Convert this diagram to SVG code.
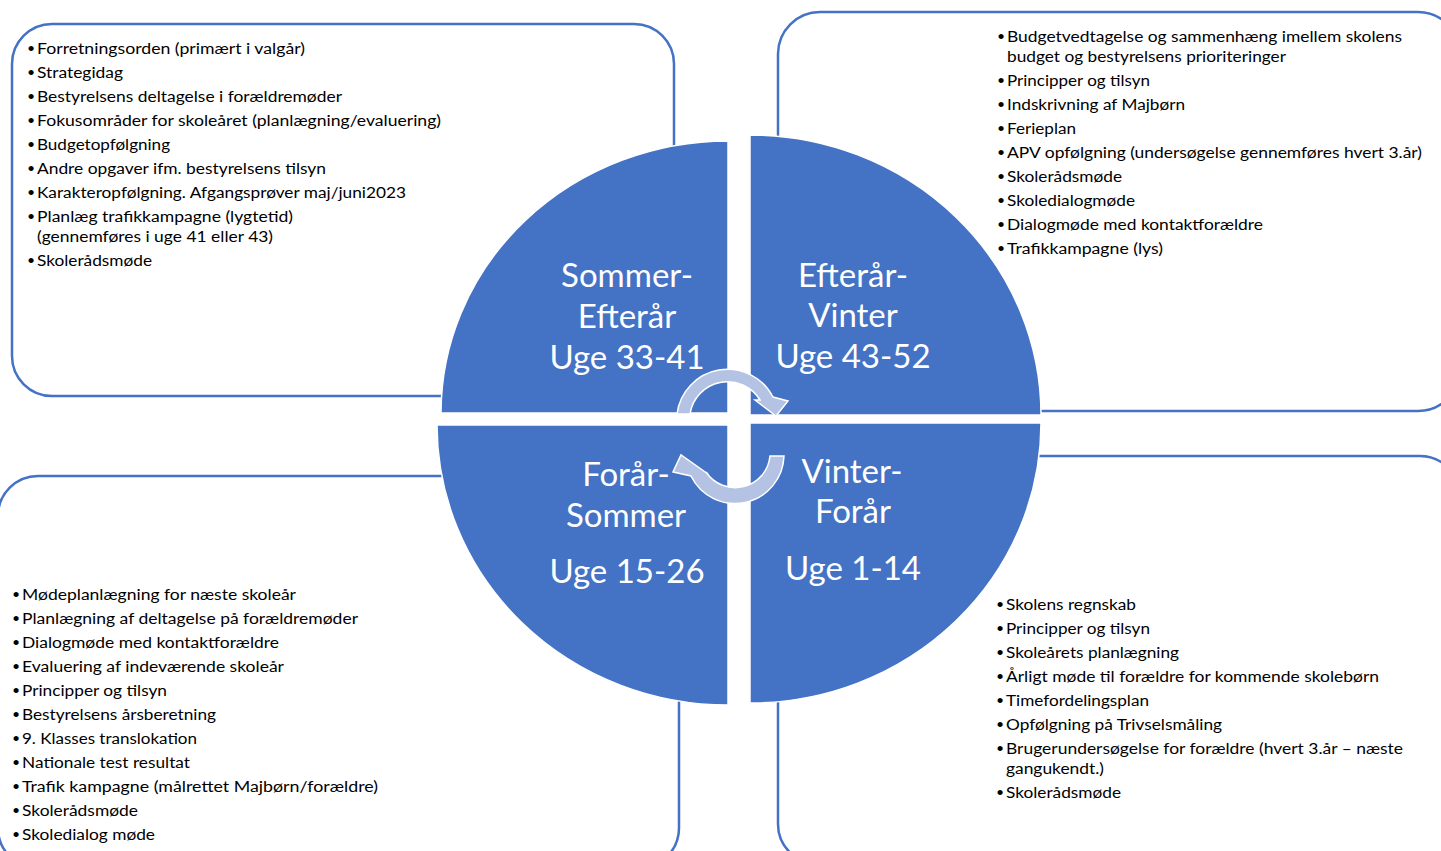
<svg xmlns="http://www.w3.org/2000/svg" width="1441" height="851" viewBox="0 0 1441 851">
<style>
.box{fill:#fff;stroke:#4472C4;stroke-width:2.5}
.q{fill:#4472C4;stroke:#fff;stroke-width:1.5}
.arr{fill:#B4C3E4;stroke:#fff;stroke-width:1.5}
.li{font-family:Lato,"Open Sans","Liberation Sans",sans-serif;font-size:15.5px;fill:#000}
.bu{font-family:"Liberation Sans",sans-serif;font-size:19px;fill:#000;text-anchor:middle}
.t{font-family:Lato,"Open Sans","Liberation Sans",sans-serif;font-size:33px;fill:#fff;text-anchor:middle}
</style>
<rect width="1441" height="851" fill="#fff"/>
<g id="box-tl"><rect class="box" x="12" y="24" width="662" height="372" rx="40"/></g>
<g id="box-tr"><rect class="box" x="778" y="12" width="682" height="399" rx="42"/></g>
<g id="box-bl"><rect class="box" x="-2" y="476" width="681" height="392" rx="40"/></g>
<g id="box-br"><rect class="box" x="778" y="456" width="682" height="408" rx="40"/></g>

<g id="q-tl"><path class="q" d="M728 413 L441 413 A287 272 0 0 1 728 141 Z"/></g>
<g id="q-tr"><path class="q" d="M750 415 L750 135 A291 280 0 0 1 1041 415 Z"/></g>
<g id="q-br"><path class="q" d="M750 423 L1041 423 A291 280 0 0 1 750 703 Z"/></g>
<g id="q-bl"><path class="q" d="M728 425 L728 705 A291 280 0 0 1 437 425 Z"/></g>

<g id="connectors">
<path class="arr" d="M677 414 A51 51 0 0 1 773 397 L788 401 L776 416 L755 400 L760 400 A38 38 0 0 0 690 414 Z"/>
<path class="arr" d="M784 456 A49 49 0 0 1 691 476 L673 472 L681 455 L708 474 L706 472 A35 35 0 0 0 770 456 Z"/>
</g>

<g id="title-tl">
<text class="t" x="627" y="287">Sommer-</text>
<text class="t" x="627" y="328">Efterår</text>
<text class="t" x="627" y="369">Uge 33-41</text>
</g>
<g id="title-tr">
<text class="t" x="853" y="287">Efterår-</text>
<text class="t" x="853" y="327">Vinter</text>
<text class="t" x="853" y="368">Uge 43-52</text>
</g>
<g id="title-bl">
<text class="t" x="626" y="486">Forår-</text>
<text class="t" x="626" y="527">Sommer</text>
<text class="t" x="627" y="583">Uge 15-26</text>
</g>
<g id="title-br">
<text class="t" x="852" y="483">Vinter-</text>
<text class="t" x="853" y="523">Forår</text>
<text class="t" x="853" y="580">Uge 1-14</text>
</g>

<g id="list-tl">
<text class="bu" x="31" y="55">•</text><text class="li" x="37" y="53.5" textLength="268" lengthAdjust="spacingAndGlyphs">Forretningsorden (primært i valgår)</text>
<text class="bu" x="31" y="79">•</text><text class="li" x="37" y="77.5" textLength="86" lengthAdjust="spacingAndGlyphs">Strategidag</text>
<text class="bu" x="31" y="103">•</text><text class="li" x="37" y="101.5" textLength="305" lengthAdjust="spacingAndGlyphs">Bestyrelsens deltagelse i forældremøder</text>
<text class="bu" x="31" y="127">•</text><text class="li" x="37" y="125.5" textLength="404" lengthAdjust="spacingAndGlyphs">Fokusområder for skoleåret (planlægning/evaluering)</text>
<text class="bu" x="31" y="151">•</text><text class="li" x="37" y="149.5" textLength="133" lengthAdjust="spacingAndGlyphs">Budgetopfølgning</text>
<text class="bu" x="31" y="175">•</text><text class="li" x="37" y="173.5" textLength="289" lengthAdjust="spacingAndGlyphs">Andre opgaver ifm. bestyrelsens tilsyn</text>
<text class="bu" x="31" y="199">•</text><text class="li" x="37" y="197.5" textLength="369" lengthAdjust="spacingAndGlyphs">Karakteropfølgning. Afgangsprøver maj/juni2023</text>
<text class="bu" x="31" y="223">•</text><text class="li" x="37" y="221.5" textLength="256" lengthAdjust="spacingAndGlyphs">Planlæg trafikkampagne (lygtetid)</text>
<text class="li" x="37" y="241.5" textLength="236" lengthAdjust="spacingAndGlyphs">(gennemføres i uge 41 eller 43)</text>
<text class="bu" x="31" y="267">•</text><text class="li" x="37" y="265.5" textLength="115" lengthAdjust="spacingAndGlyphs">Skolerådsmøde</text>
</g>

<g id="list-tr">
<text class="bu" x="1001" y="43">•</text><text class="li" x="1007" y="41.5" textLength="395" lengthAdjust="spacingAndGlyphs">Budgetvedtagelse og sammenhæng imellem skolens</text>
<text class="li" x="1007" y="61.5" textLength="279" lengthAdjust="spacingAndGlyphs">budget og bestyrelsens prioriteringer</text>
<text class="bu" x="1001" y="87">•</text><text class="li" x="1007" y="85.5" textLength="143" lengthAdjust="spacingAndGlyphs">Principper og tilsyn</text>
<text class="bu" x="1001" y="111">•</text><text class="li" x="1007" y="109.5" textLength="178" lengthAdjust="spacingAndGlyphs">Indskrivning af Majbørn</text>
<text class="bu" x="1001" y="135">•</text><text class="li" x="1007" y="133.5" textLength="69" lengthAdjust="spacingAndGlyphs">Ferieplan</text>
<text class="bu" x="1001" y="159">•</text><text class="li" x="1007" y="157.5" textLength="415" lengthAdjust="spacingAndGlyphs">APV opfølgning (undersøgelse gennemføres hvert 3.år)</text>
<text class="bu" x="1001" y="183">•</text><text class="li" x="1007" y="181.5" textLength="115" lengthAdjust="spacingAndGlyphs">Skolerådsmøde</text>
<text class="bu" x="1001" y="207">•</text><text class="li" x="1007" y="205.5" textLength="128" lengthAdjust="spacingAndGlyphs">Skoledialogmøde</text>
<text class="bu" x="1001" y="231">•</text><text class="li" x="1007" y="229.5" textLength="256" lengthAdjust="spacingAndGlyphs">Dialogmøde med kontaktforældre</text>
<text class="bu" x="1001" y="255">•</text><text class="li" x="1007" y="253.5" textLength="156" lengthAdjust="spacingAndGlyphs">Trafikkampagne (lys)</text>
</g>

<g id="list-bl">
<text class="bu" x="16" y="601">•</text><text class="li" x="22" y="599.5" textLength="274" lengthAdjust="spacingAndGlyphs">Mødeplanlægning for næste skoleår</text>
<text class="bu" x="16" y="625">•</text><text class="li" x="22" y="623.5" textLength="336" lengthAdjust="spacingAndGlyphs">Planlægning af deltagelse på forældremøder</text>
<text class="bu" x="16" y="649">•</text><text class="li" x="22" y="647.5" textLength="257" lengthAdjust="spacingAndGlyphs">Dialogmøde med kontaktforældre</text>
<text class="bu" x="16" y="673">•</text><text class="li" x="22" y="671.5" textLength="262" lengthAdjust="spacingAndGlyphs">Evaluering af indeværende skoleår</text>
<text class="bu" x="16" y="697">•</text><text class="li" x="22" y="695.5" textLength="145" lengthAdjust="spacingAndGlyphs">Principper og tilsyn</text>
<text class="bu" x="16" y="721">•</text><text class="li" x="22" y="719.5" textLength="194" lengthAdjust="spacingAndGlyphs">Bestyrelsens årsberetning</text>
<text class="bu" x="16" y="745">•</text><text class="li" x="22" y="743.5" textLength="175" lengthAdjust="spacingAndGlyphs">9. Klasses translokation</text>
<text class="bu" x="16" y="769">•</text><text class="li" x="22" y="767.5" textLength="168" lengthAdjust="spacingAndGlyphs">Nationale test resultat</text>
<text class="bu" x="16" y="793">•</text><text class="li" x="22" y="791.5" textLength="356" lengthAdjust="spacingAndGlyphs">Trafik kampagne (målrettet Majbørn/forældre)</text>
<text class="bu" x="16" y="817">•</text><text class="li" x="22" y="815.5" textLength="116" lengthAdjust="spacingAndGlyphs">Skolerådsmøde</text>
<text class="bu" x="16" y="841">•</text><text class="li" x="22" y="839.5" textLength="133" lengthAdjust="spacingAndGlyphs">Skoledialog møde</text>
</g>

<g id="list-br">
<text class="bu" x="1000" y="611">•</text><text class="li" x="1006" y="609.5" textLength="130" lengthAdjust="spacingAndGlyphs">Skolens regnskab</text>
<text class="bu" x="1000" y="635">•</text><text class="li" x="1006" y="633.5" textLength="144" lengthAdjust="spacingAndGlyphs">Principper og tilsyn</text>
<text class="bu" x="1000" y="659">•</text><text class="li" x="1006" y="657.5" textLength="173" lengthAdjust="spacingAndGlyphs">Skoleårets planlægning</text>
<text class="bu" x="1000" y="683">•</text><text class="li" x="1006" y="681.5" textLength="373" lengthAdjust="spacingAndGlyphs">Årligt møde til forældre for kommende skolebørn</text>
<text class="bu" x="1000" y="707">•</text><text class="li" x="1006" y="705.5" textLength="143" lengthAdjust="spacingAndGlyphs">Timefordelingsplan</text>
<text class="bu" x="1000" y="731">•</text><text class="li" x="1006" y="729.5" textLength="216" lengthAdjust="spacingAndGlyphs">Opfølgning på Trivselsmåling</text>
<text class="bu" x="1000" y="755">•</text><text class="li" x="1006" y="753.5" textLength="397" lengthAdjust="spacingAndGlyphs">Brugerundersøgelse for forældre (hvert 3.år – næste</text>
<text class="li" x="1006" y="774" textLength="98" lengthAdjust="spacingAndGlyphs">gangukendt.)</text>
<text class="bu" x="1000" y="799">•</text><text class="li" x="1006" y="797.5" textLength="115" lengthAdjust="spacingAndGlyphs">Skolerådsmøde</text>
</g>
</svg>
